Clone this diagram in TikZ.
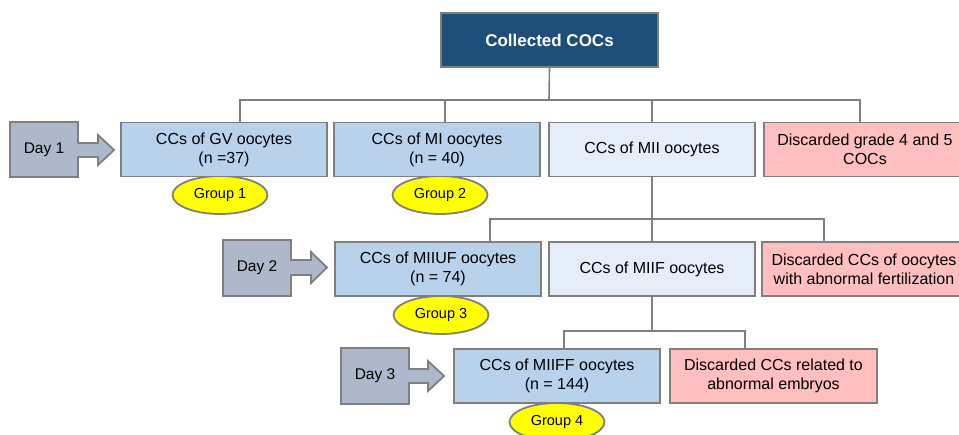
\documentclass[tikz,border=0pt]{standalone}
\usepackage{fontspec}
\setmainfont{Liberation Sans}
\usetikzlibrary{shapes.geometric}
\definecolor{topblue}{HTML}{1F4E78}
\definecolor{lblue}{HTML}{B8D2EC}
\definecolor{pale}{HTML}{E5EEF8}
\definecolor{pink}{HTML}{FFBFBF}
\definecolor{dayc}{HTML}{ADB9CA}
\definecolor{bord}{HTML}{808080}
\definecolor{grp}{HTML}{FFFF00}
\tikzset{
  box/.style={draw=bord, line width=1.8pt, minimum height=54pt, minimum width=206pt,
    inner sep=0pt, align=center, font=\fontsize{16}{19}\selectfont, text=black},
  bluebox/.style={box, fill=lblue},
  palebox/.style={box, fill=pale},
  pinkbox/.style={box, fill=pink},
  grpell/.style={ellipse, draw=bord, line width=1.8pt, fill=grp, minimum width=95pt,
    minimum height=38pt, inner sep=0pt, font=\fontsize{14.5}{17}\selectfont},
  dayshape/.style={draw=bord, line width=1.8pt, fill=dayc, line join=miter},
  daytext/.style={font=\fontsize{15.5}{18}\selectfont, inner sep=0pt},
  conn/.style={draw=bord, line width=1.6pt},
}
\begin{document}
\begin{tikzpicture}[x=1pt,y=-1pt]
\useasboundingbox (0,0) rectangle (959,434);

% group ellipses (behind boxes)
\node[grpell] (g1) at (220,195) {Group 1};
\node[grpell] (g2) at (440,195) {Group 2};
\node[grpell] (g3) at (441,315) {Group 3};
\node[grpell] (g4) at (557,422) {Group 4};

% top
\node[box, fill=topblue, minimum width=217pt, text=white,
  font=\fontsize{17}{20}\selectfont\bfseries] (top) at (549.5,40) {Collected COCs};

% row 1
\node[bluebox] (gv) at (224,149.5) {CCs of GV oocytes\\(n =37)};
\node[bluebox] (mi) at (437,149.5) {CCs of MI oocytes\\(n = 40)};
\node[palebox] (mii) at (652,149.5) {CCs of MII oocytes};
\node[pinkbox, minimum width=202pt] (disc1) at (865,149.5) {Discarded grade 4 and 5\\COCs};

% row 2
\node[bluebox] (miiuf) at (438,269) {CCs of MIIUF oocytes\\(n = 74)};
\node[palebox] (miif) at (652,269) {CCs of MIIF oocytes};
\node[pinkbox, minimum width=204pt] (disc2) at (864,269) {Discarded CCs of oocytes\\with abnormal fertilization};

% row 3
\node[bluebox] (miiff) at (557,376) {CCs of MIIFF oocytes\\(n = 144)};
\node[pinkbox, minimum width=207pt] (disc3) at (773.5,376) {Discarded CCs related to\\abnormal embryos};

% redraw ellipse bottoms above? (ellipses are behind boxes)

% connectors
\coordinate (b1) at (549,100);
\draw[conn] (top.south) -- (b1);
\draw[conn] (gv.north -| 240,0) -- (240,100) -- (860,100) -- (disc1.north -| 860,0);
\draw[conn] (mi.north -| 445,0) -- (445,100);
\draw[conn] (mii.north) -- (mii.north |- b1);

\coordinate (b2) at (652,219);
\draw[conn] (mii.south) -- (miif.north);
\draw[conn] (miiuf.north -| 490,0) -- (490,219) -- (824,219) -- (disc2.north -| 824,0);

\coordinate (b3) at (652,331);
\draw[conn] (miif.south) -- (b3);
\draw[conn] (miiff.north -| 564,0) -- (564,331) -- (745,331) -- (disc3.north -| 745,0);

% day arrows
\draw[dayshape] (10,122) -- (78,122) -- (78,143) -- (98,143) -- (98,135) -- (114,150)
  -- (98,165) -- (98,157) -- (78,157) -- (78,177) -- (10,177) -- cycle;
\node[daytext] (day1) at (44,150) {Day 1};

\draw[dayshape] (223,240) -- (291,240) -- (291,260) -- (311,260) -- (311,252) -- (327,267.5)
  -- (311,283) -- (311,275) -- (291,275) -- (291,296) -- (223,296) -- cycle;
\node[daytext] (day2) at (257,268) {Day 2};

\draw[dayshape] (341,348) -- (409,348) -- (409,369) -- (428,369) -- (428,361) -- (444,376)
  -- (428,391) -- (428,383) -- (409,383) -- (409,404) -- (341,404) -- cycle;
\node[daytext] (day3) at (375,376) {Day 3};
\end{tikzpicture}
\end{document}
